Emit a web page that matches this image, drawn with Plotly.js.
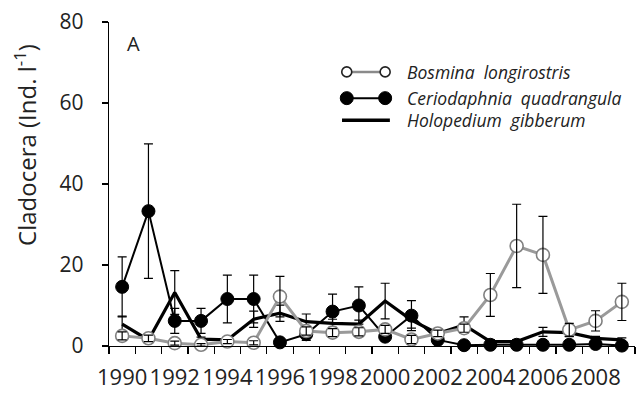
<!DOCTYPE html>
<html>
<head>
<meta charset="utf-8">
<script src="https://cdn.plot.ly/plotly-3.0.1.min.js"></script>
<style>
  html, body { margin: 0; padding: 0; background: #fff; }
  #chart { width: 636px; height: 393px; }
</style>
</head>
<body>
<div id="chart"></div>
<script>
// Sampling years
const years = [1990, 1991, 1992, 1993, 1994, 1995, 1996, 1997, 1998, 1999,
               2000, 2001, 2002, 2003, 2004, 2005, 2006, 2007, 2008, 2009];

// Mean densities (Ind. l-1) and their error bars
const bosmina    = [2.5, 1.9, 0.7, 0.3, 1.1, 0.8, 12.2, 3.7, 3.3, 3.5, 4.1, 1.6, 3.1, 4.4, 12.6, 24.7, 22.5, 4.0, 6.2, 10.9];
const bosminaErr = [1.0, 0.8, 0.5, 0.3, 0.5, 0.5, 5.0, 1.0, 1.0, 1.0, 1.0, 1.0, 0.8, 1.0, 5.3, 10.3, 9.5, 1.6, 2.5, 4.6];

const cerio      = [14.6, 33.3, 6.2, 6.2, 11.6, 11.6, 0.9, 2.9, 8.5, 10.0, 2.3, 7.5, 1.5, 0.2, 0.3, 0.3, 0.3, 0.3, 0.5, 0.1];
const cerioErr   = [7.4, 16.6, 3.1, 3.1, 5.9, 5.9, 0.5, 1.5, 4.3, 4.6, 0.8, 3.7, 0.5, 0.2, 0.2, 0.2, 0.2, 0.2, 0.2, 0.2];

const holo       = [5.4, 1.5, 13.2, 1.7, 1.5, 6.6, 8.1, 6.0, 5.6, 5.4, 11.1, 6.4, 3.1, 5.2, 1.1, 1.1, 3.5, 3.3, 1.9, 1.5];
const holoErr    = [2.0, 0.5, 5.4, 0.5, 0.5, 2.0, 2.0, 1.9, 1.0, 1.0, 4.4, 2.0, 1.0, 2.0, 0.5, 0.5, 1.1, 1.0, 0.5, 0.5];

// Axis labels
const xTickVals = [1990, 1992, 1994, 1996, 1998, 2000, 2002, 2004, 2006, 2008];
const yTickVals = [0, 20, 40, 60, 80];
const seriesNames = ['Bosmina  longirostris', 'Ceriodaphnia  quadrangula', 'Holopedium  gibberum'];

const FONT = '"Open Sans", "DejaVu Sans", sans-serif';

function errBar(arr) {
  return { type: 'data', array: arr, visible: true, color: '#000', thickness: 1.2, width: 4.5 };
}

const traces = [
  {
    x: years, y: holo, type: 'scatter', mode: 'lines', name: seriesNames[2],
    line: { color: '#000', width: 3.2 },
    error_y: errBar(holoErr), cliponaxis: false, showlegend: false
  },
  {
    x: years, y: cerio, type: 'scatter', mode: 'lines+markers', name: seriesNames[1],
    line: { color: '#000', width: 2 },
    marker: { symbol: 'circle', size: 13, color: '#000', line: { color: '#000', width: 1 } },
    error_y: errBar(cerioErr), cliponaxis: false, showlegend: false
  },
  {
    x: years, y: bosmina, type: 'scatter', mode: 'lines+markers', name: seriesNames[0],
    line: { color: '#9a9a9a', width: 3 },
    marker: { symbol: 'circle', size: 13, color: '#fff', line: { color: '#808080', width: 1.6 } },
    cliponaxis: false, showlegend: false
  },
  {
    // Bosmina error bars, drawn over the open circles
    x: years, y: bosmina, type: 'scatter', mode: 'none', name: seriesNames[0],
    error_y: errBar(bosminaErr), cliponaxis: false, showlegend: false, hoverinfo: 'skip'
  }
];

// Legend key drawn as paper-space shapes and labels
const rowsY = [0.846, 0.765, 0.697];
const keyX0 = 0.443, keyX1 = 0.534, dotA = 0.452, dotB = 0.525, textX = 0.563;

function dot(x, y, d, fill, stroke, w) {
  return {
    type: 'circle', xref: 'paper', yref: 'paper',
    xsizemode: 'pixel', ysizemode: 'pixel', xanchor: x, yanchor: y,
    x0: -d / 2, x1: d / 2, y0: -d / 2, y1: d / 2,
    fillcolor: fill, line: { color: stroke, width: w }
  };
}
function seg(y, color, w) {
  return { type: 'line', xref: 'paper', yref: 'paper', x0: keyX0, x1: keyX1, y0: y, y1: y,
           line: { color: color, width: w } };
}

const shapes = [
  seg(rowsY[0], '#8a8a8a', 2.5),
  dot(dotA, rowsY[0], 10, '#fff', '#222', 1.6),
  dot(dotB, rowsY[0], 10, '#fff', '#222', 1.6),
  seg(rowsY[1], '#000', 2),
  dot(dotA, rowsY[1], 13, '#000', '#000', 1),
  dot(dotB, rowsY[1], 13, '#000', '#000', 1),
  seg(rowsY[2], '#000', 3.5)
];

const annotations = seriesNames.map((name, i) => ({
  xref: 'paper', yref: 'paper', x: textX, y: rowsY[i], xanchor: 'left', yanchor: 'middle',
  text: '<i>' + name + '</i>', showarrow: false,
  font: { family: FONT, size: 17.5, color: '#222' }
}));

annotations.push({
  xref: 'paper', yref: 'paper', x: 0.046, y: 0.935, xanchor: 'center', yanchor: 'middle',
  text: 'A', showarrow: false, font: { family: FONT, size: 20, color: '#222' }
});

annotations.push({
  xref: 'paper', yref: 'paper', x: -0.16, y: 0.62, xanchor: 'center', yanchor: 'middle',
  text: 'Cladocera (Ind. l<sup>-1</sup>)', textangle: -90, showarrow: false,
  font: { family: FONT, size: 24, color: '#222' }
});

const layout = {
  width: 636, height: 393,
  margin: { l: 109, r: 1, t: 22, b: 47 },
  paper_bgcolor: '#fff', plot_bgcolor: '#fff',
  font: { family: FONT, color: '#222' },
  showlegend: false,
  xaxis: {
    type: 'linear', range: [1989.5, 2009.5],
    tickmode: 'array', tickvals: xTickVals, ticktext: xTickVals.map(String),
    ticks: '', showgrid: false, zeroline: false,
    showline: true, linecolor: '#000', linewidth: 1.3,
    tickfont: { family: FONT, size: 22, color: '#222' },
    minor: { tick0: 1989.5, dtick: 1, ticks: 'outside', ticklen: 7, tickcolor: '#000', tickwidth: 1.2, showgrid: false },
    ticklabelstandoff: 11
  },
  yaxis: {
    range: [0, 80], tickmode: 'array', tickvals: yTickVals,
    ticks: 'outside', ticklen: 6, tickcolor: '#000', tickwidth: 1.2,
    showgrid: false, zeroline: false,
    showline: true, linecolor: '#000', linewidth: 1.3,
    tickfont: { family: FONT, size: 21, color: '#222' },
    ticklabelstandoff: 14
  },
  shapes: shapes,
  annotations: annotations
};

Plotly.newPlot('chart', traces, layout, { displayModeBar: false, staticPlot: true });
</script>
</body>
</html>
